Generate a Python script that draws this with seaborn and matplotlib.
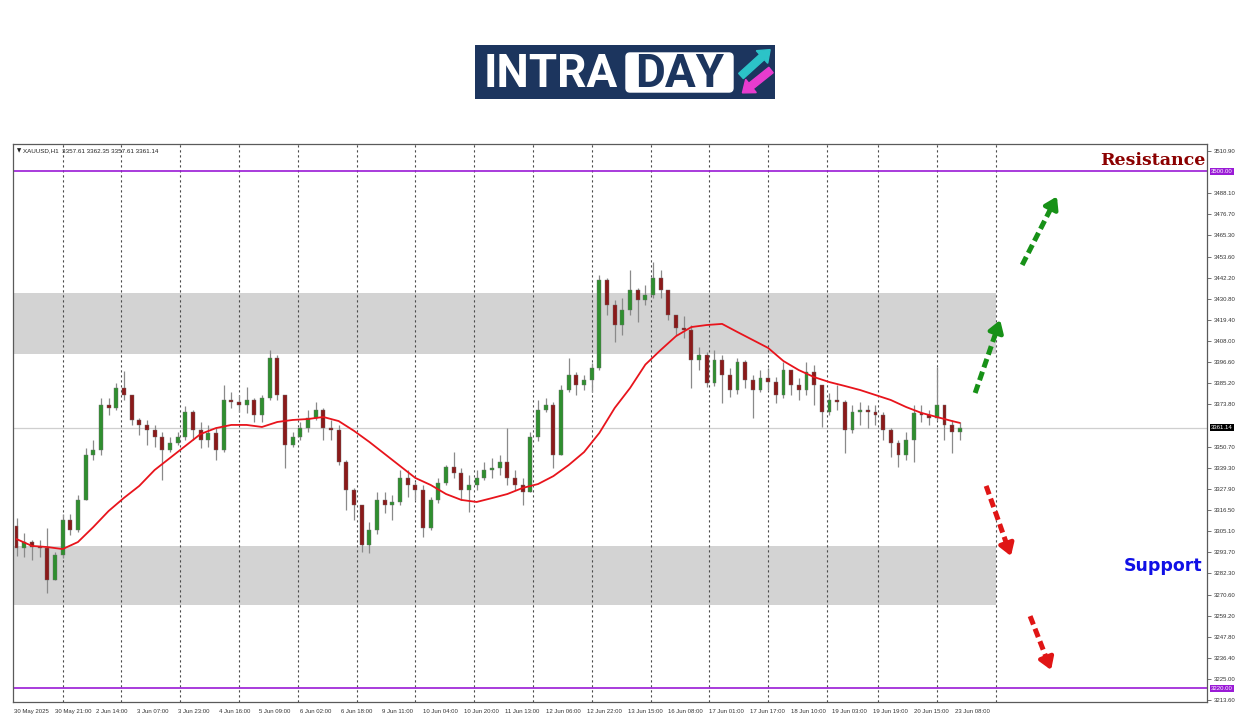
import numpy as np
import pandas as pd
import matplotlib
matplotlib.use("Agg")
import matplotlib.pyplot as plt
import seaborn as sns
from matplotlib.patches import Rectangle, FancyBboxPatch, FancyArrow

# --- data (hourly bars grouped by 3) ---
first_open = 3307.9
close = [3296.0, 3299.2, 3296.5, 3296.0, 3278.6, 3292.2, 3311.1, 3305.7, 3322.0, 3346.3,
         3349.0, 3373.4, 3371.8, 3382.6, 3378.8, 3365.3, 3362.6, 3359.9, 3356.1, 3349.0,
         3352.8, 3356.1, 3369.6, 3359.9, 3354.4, 3358.3, 3349.0, 3376.1, 3375.0, 3373.4,
         3376.1, 3368.0, 3377.2, 3398.8, 3378.8, 3351.7, 3356.1, 3361.0, 3366.4, 3370.7,
         3361.0, 3359.9, 3342.5, 3327.4, 3319.2, 3297.6, 3305.7, 3322.0, 3319.2, 3320.9,
         3333.9, 3330.1, 3327.4, 3306.8, 3322.0, 3331.2, 3339.8, 3336.6, 3327.4, 3330.1,
         3333.9, 3338.2, 3339.3, 3342.5, 3333.9, 3330.1, 3326.3, 3356.1, 3370.7, 3373.4,
         3346.3, 3381.5, 3389.6, 3384.2, 3386.9, 3393.4, 3441.1, 3427.5, 3416.7, 3424.8,
         3435.6, 3430.2, 3432.9, 3442.1, 3435.6, 3422.1, 3415.1, 3414.0, 3397.7, 3400.5,
         3385.3, 3397.7, 3389.6, 3381.5, 3396.6, 3386.9, 3381.5, 3388.0, 3385.8, 3378.8,
         3392.3, 3384.2, 3381.5, 3391.2, 3384.2, 3369.6, 3376.1, 3375.0, 3359.9, 3369.6,
         3370.7, 3369.6, 3368.0, 3359.9, 3352.8, 3346.3, 3354.4, 3369.1, 3368.0, 3366.4,
         3373.4, 3362.6, 3358.8, 3361.14]
high = [3312.2, 3304.1, 3300.3, 3300.3, 3306.8, 3293.8, 3314.4, 3314.4, 3324.7, 3350.1,
        3354.4, 3377.2, 3377.2, 3385.3, 3391.7, 3378.8, 3366.4, 3365.3, 3362.6, 3358.8,
        3356.1, 3358.8, 3372.9, 3370.7, 3364.2, 3362.6, 3361.0, 3384.2, 3380.4, 3378.8,
        3383.1, 3377.2, 3378.8, 3403.2, 3400.5, 3378.8, 3358.8, 3364.2, 3370.7, 3375.0,
        3371.8, 3365.3, 3362.6, 3343.6, 3328.5, 3319.2, 3310.0, 3326.3, 3326.3, 3324.7,
        3338.2, 3338.2, 3331.7, 3330.1, 3323.6, 3333.9, 3340.9, 3347.9, 3339.3, 3335.5,
        3338.2, 3342.5, 3344.7, 3346.3, 3361.0, 3338.2, 3333.9, 3358.8, 3376.1, 3377.2,
        3375.0, 3384.2, 3398.8, 3391.2, 3389.6, 3396.1, 3443.8, 3442.1, 3430.2, 3431.3,
        3446.5, 3436.7, 3438.4, 3450.8, 3446.5, 3435.6, 3422.1, 3421.6, 3416.7, 3404.8,
        3402.1, 3403.2, 3400.5, 3393.4, 3398.8, 3397.7, 3389.6, 3392.3, 3393.4, 3388.5,
        3396.6, 3392.3, 3388.0, 3396.6, 3395.0, 3384.2, 3379.9, 3384.2, 3376.1, 3373.4,
        3375.0, 3373.4, 3373.4, 3369.6, 3361.0, 3354.4, 3358.8, 3373.4, 3373.4, 3370.7,
        3393.9, 3373.4, 3365.3, 3364.2]
low = [3291.6, 3291.1, 3289.5, 3291.1, 3271.6, 3278.6, 3290.6, 3303.0, 3304.6, 3322.0,
       3343.6, 3346.3, 3368.0, 3370.7, 3376.1, 3362.6, 3357.1, 3351.7, 3350.6, 3332.8,
       3347.9, 3351.7, 3354.4, 3354.4, 3350.1, 3350.6, 3343.6, 3347.9, 3371.8, 3369.6,
       3369.1, 3364.2, 3364.2, 3376.1, 3376.1, 3339.3, 3350.6, 3354.4, 3358.8, 3365.3,
       3354.4, 3354.4, 3340.9, 3316.5, 3311.1, 3293.8, 3293.3, 3303.5, 3314.9, 3311.1,
       3319.2, 3323.6, 3322.0, 3301.9, 3305.7, 3320.5, 3330.1, 3333.9, 3322.0, 3315.4,
       3327.4, 3332.8, 3333.9, 3335.5, 3330.1, 3327.4, 3319.2, 3326.3, 3354.0, 3369.6,
       3339.3, 3346.3, 3380.4, 3378.8, 3381.5, 3380.4, 3392.3, 3422.1, 3407.5, 3411.3,
       3422.1, 3418.3, 3427.5, 3431.3, 3431.3, 3419.4, 3411.3, 3409.7, 3382.6, 3392.3,
       3383.1, 3383.5, 3374.5, 3377.8, 3379.5, 3382.6, 3366.4, 3380.4, 3381.5, 3374.5,
       3377.2, 3378.8, 3376.1, 3378.8, 3373.4, 3361.5, 3368.0, 3370.7, 3347.4, 3358.3,
       3362.6, 3361.0, 3362.6, 3354.4, 3345.2, 3339.8, 3343.6, 3342.5, 3364.2, 3362.6,
       3365.3, 3354.4, 3347.4, 3354.4]
bars_per_candle = 3

# moving average (red line), read every 2nd candle
ma_candle = [0, 2, 4, 6, 8, 10, 12, 14, 16, 18, 20, 22, 24, 26, 28, 30, 32, 34, 36, 38,
             40, 42, 44, 46, 48, 50, 52, 54, 56, 58, 60, 62, 64, 66, 68, 70, 72, 74, 76, 78,
             80, 82, 84, 86, 88, 90, 92, 94, 96, 98, 100, 102, 104, 106, 108, 110, 112, 114,
             116, 118, 120, 122, 123]
ma_value = [3300.8, 3297.1, 3296.5, 3295.4, 3299.2, 3307.3, 3316.0, 3323.1, 3329.6, 3338.2,
            3344.7, 3351.2, 3357.7, 3360.9, 3362.6, 3362.6, 3361.5, 3364.2, 3365.3, 3365.8,
            3366.9, 3364.7, 3359.4, 3353.4, 3346.9, 3340.4, 3333.9, 3330.1, 3325.2, 3322.0,
            3320.9, 3323.0, 3325.2, 3328.5, 3330.6, 3334.9, 3340.9, 3347.9, 3358.3, 3371.8,
            3382.6, 3395.3, 3403.2, 3410.7, 3415.6, 3416.7, 3417.3, 3412.9, 3408.6, 3404.3,
            3397.2, 3392.3, 3388.5, 3385.8, 3383.7, 3381.5, 3378.8, 3376.1, 3372.3, 3369.1,
            3366.9, 3364.7, 3363.7]

tick_labels = ["30 May 2025", "30 May 21:00", "2 Jun 14:00", "3 Jun 07:00", "3 Jun 23:00",
               "4 Jun 16:00", "5 Jun 09:00", "6 Jun 02:00", "6 Jun 18:00", "9 Jun 11:00",
               "10 Jun 04:00", "10 Jun 20:00", "11 Jun 13:00", "12 Jun 06:00", "12 Jun 22:00",
               "13 Jun 15:00", "16 Jun 08:00", "17 Jun 01:00", "17 Jun 17:00", "18 Jun 10:00",
               "19 Jun 03:00", "19 Jun 19:00", "20 Jun 15:00", "23 Jun 08:00"]
bars_per_tick = 16
day_starts = [19, 42, 65, 88, 111, 134, 157, 180, 203, 226, 249, 272, 295, 318, 338, 361, 384]

axis_prices = [3510.90, 3488.10, 3476.70, 3465.30, 3453.60, 3442.20, 3430.80, 3419.40,
               3408.00, 3396.60, 3385.20, 3373.80, 3350.70, 3339.30, 3327.90, 3316.50,
               3305.10, 3293.70, 3282.30, 3270.60, 3259.20, 3247.80, 3236.40, 3225.00, 3213.60]
last_price = 3361.14
resistance_level = 3500.00
support_level = 3220.00
zone_upper = (3401.0, 3434.0)
zone_lower = (3265.1, 3297.0)
header = "XAUUSD,H1  3357.61 3362.35 3357.61 3361.14"

# --- candles table ---
df = pd.DataFrame({"close": close, "high": high, "low": low})
df["open"] = [first_open] + close[:-1]
df["bar"] = np.arange(len(df)) * bars_per_candle + 1
df["up"] = df["close"] >= df["open"]
df["bottom"] = df[["open", "close"]].min(axis=1)
df["height"] = (df["close"] - df["open"]).abs().clip(lower=0.4)

sns.set_style("white")
plt.rcParams["font.family"] = ["DejaVu Sans"]
small = "Liberation Sans"

W, H = 1250, 716
fig = plt.figure(figsize=(W / 100, H / 100), dpi=100)
fig.patch.set_facecolor("white")
ax = fig.add_axes([13 / W, 1 - 702 / H, (1207 - 13) / W, (702 - 144) / H])
ax.set_xlim(-0.4, 466.7)
ax.set_ylim(3212.6, 3514.7)
x0 = ax.get_xlim()[0]

# gray zones
for lo, hi in [zone_upper, zone_lower]:
    ax.fill_between([x0, day_starts[-1]], lo, hi, color="#d3d3d3", lw=0, zorder=0)

# day separators
for b in day_starts:
    ax.axvline(b, color="#4a4a4a", ls=(0, (2, 2.5)), lw=0.8, zorder=1)

# horizontal levels
ax.axhline(resistance_level, color="#9a1ad6", lw=1.2, zorder=2)
ax.axhline(support_level, color="#9a1ad6", lw=1.2, zorder=2)
ax.axhline(last_price, color="#cfcfcf", lw=0.9, zorder=1)

# candles
ax.vlines(df["bar"], df["low"], df["high"], color="#8a8a8a", lw=0.9, zorder=3)
colors = np.where(df["up"], "#2f8f2f", "#8b1a1a")
ax.bar(df["bar"], df["height"], bottom=df["bottom"], width=1.5, color=colors,
       edgecolor="#707070", linewidth=0.3, zorder=4)

# moving average
ma_bar = np.array(ma_candle) * bars_per_candle + 1
sns.lineplot(x=ma_bar, y=ma_value, ax=ax, color="#e8141c", lw=1.3, zorder=5)

# axes styling
for s in ax.spines.values():
    s.set_color("#5a5a5a")
    s.set_linewidth(0.9)
ax.yaxis.tick_right()
ax.set_yticks(axis_prices)
ax.set_yticklabels([f"{v:.2f}" for v in axis_prices], family=small)
ax.set_xticks([k * bars_per_tick for k in range(len(tick_labels))])
ax.set_xticklabels(tick_labels, ha="left", family=small)
ax.tick_params(axis="both", labelsize=4.3, length=3, width=0.6, color="#5a5a5a", pad=2,
               direction="out", labelcolor="#333333")
ax.set_xlabel("")
ax.set_ylabel("")

ytr = ax.get_yaxis_transform()
for val, bg in [(resistance_level, "#9a1ad6"), (support_level, "#9a1ad6"), (last_price, "black")]:
    ax.text(1.0035, val, f"{val:.2f}", transform=ytr, fontsize=4.3, family=small,
            color="white", ha="left", va="center",
            bbox=dict(facecolor=bg, edgecolor="none", pad=0.8), zorder=10, clip_on=False)

ax.text(0.003, 0.993, "\u25bc", transform=ax.transAxes, fontsize=4, va="top",
        ha="left", color="#222222")
ax.text(0.0085, 0.993, header, transform=ax.transAxes, fontsize=4.5, family=small,
        va="top", ha="left", color="#222222")

# scenario arrows
def arrow(start, end, color):
    mid = (start[0] + 0.8 * (end[0] - start[0]), start[1] + 0.8 * (end[1] - start[1]))
    ax.plot([start[0], mid[0]], [start[1], mid[1]], color=color, lw=3.6,
            ls=(0, (1.8, 0.9)), solid_capstyle="butt", zorder=6)
    ax.annotate("", xy=end, xytext=mid,
                arrowprops=dict(arrowstyle="-|>,head_length=0.7,head_width=0.45",
                                color=color, lw=3.2, shrinkA=0, shrinkB=0), zorder=6)

arrow((376.0, 3379.9), (385.8, 3419.4), "#179117")
arrow((394.4, 3449.2), (408.0, 3486.3), "#179117")
arrow((380.3, 3329.6), (390.0, 3291.6), "#e01515")
arrow((397.5, 3259.1), (405.7, 3229.9), "#e01515")

ax.text(0.9985, 3506.0, "Resistance", transform=ytr, ha="right", va="center",
        fontsize=12.5, fontweight="bold", color="#8b0000", family="DejaVu Serif")
ax.text(0.996, 3286.2, "Support", transform=ytr, ha="right", va="center",
        fontsize=12.5, fontweight="bold", color="#1010e6")

# logo
lax = fig.add_axes([475 / W, 1 - 99 / H, 300 / W, 54 / H])
lax.set_xlim(475, 775)
lax.set_ylim(99, 45)
lax.axis("off")
navy = "#1c355e"
lax.add_patch(Rectangle((475, 45), 300, 54, color=navy))
lax.add_patch(FancyBboxPatch((626, 53), 107, 39, boxstyle="round,pad=0,rounding_size=4",
                             color="white"))
lax.text(551, 74, "INTRA", color="white", fontsize=33, fontweight="bold",
         family="Roboto", ha="center", va="center")
lax.text(680, 74, "DAY", color=navy, fontsize=33, fontweight="bold",
         family="Roboto", ha="center", va="center")
lax.add_patch(FancyArrow(741, 76, 21, -19, width=7, head_width=17, head_length=11,
                         length_includes_head=False, color="#2cc3c8"))
lax.add_patch(FancyArrow(771, 70, -20, 16, width=7, head_width=17, head_length=11,
                         length_includes_head=False, color="#e83ccf"))

fig.savefig("out.png", dpi=100, facecolor="white")
